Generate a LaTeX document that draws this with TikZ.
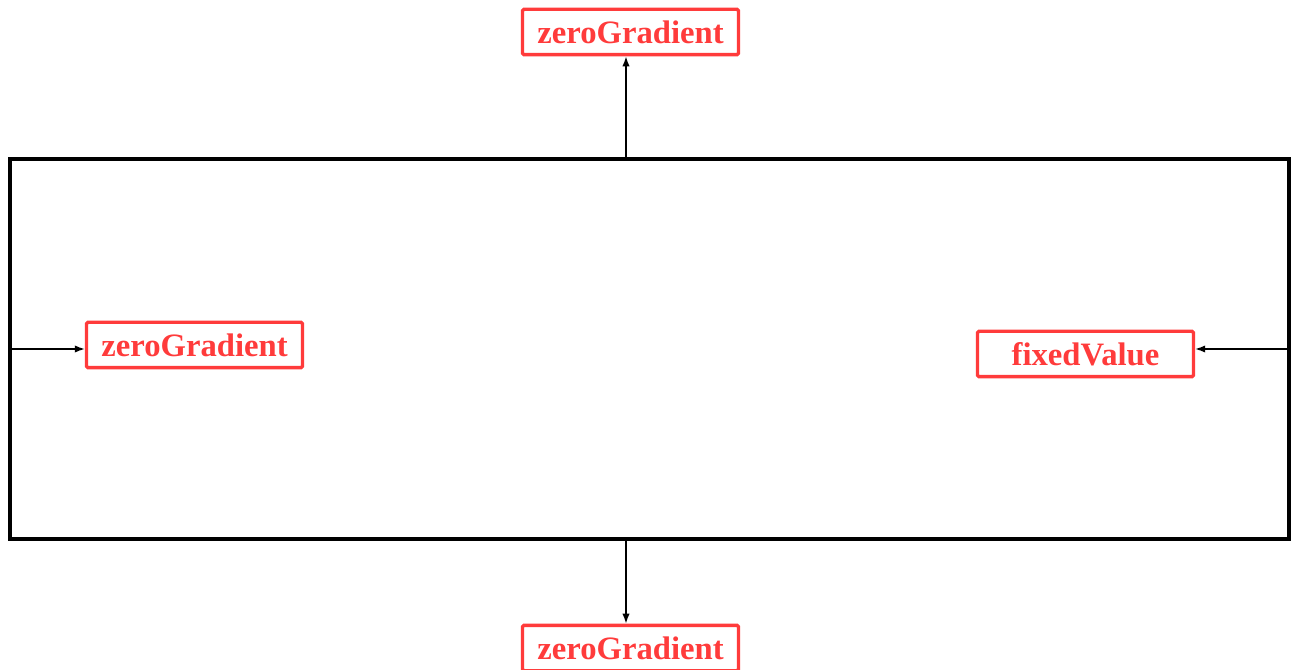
\documentclass[tikz,border=0pt]{standalone}
\usepackage{fontspec}
\setmainfont{Liberation Serif}
\usepackage{xcolor}
\usetikzlibrary{arrows, arrows.meta}
\usetikzlibrary{positioning}
\usetikzlibrary{calc}
\definecolor{bcred}{HTML}{FF3B3B}
\tikzset{
	bcbox/.style={draw=bcred, line width=2.5pt, rounded corners=1pt, text=bcred, font=\bfseries\fontsize{24.5}{27}\selectfont, minimum width=162pt, minimum height=34pt, inner sep=0pt},
	bcarrow/.style={line width=1.1pt, -{Latex[length=7.5pt, width=5.5pt]}}
}

\begin{document}
\begin{tikzpicture}[x=0.75pt, y=-0.75pt]
	\useasboundingbox (0,0) rectangle (1297,670);
	% domain
	\draw[line width=3pt] (10,159) rectangle (1289,539);
	\coordinate (top) at (626,159);
	\coordinate (bot) at (626,539);
	\coordinate (inlet) at (10,349);
	\coordinate (outlet) at (1289,349);
	% boundary conditions
	\node[bcbox] (zgTop) at (630.5,32) {zeroGradient};
	\node[bcbox] (zgBot) at (630.5,648) {zeroGradient};
	\node[bcbox] (zgIn) at (194.5,345) {zeroGradient};
	\node[bcbox] (fvOut) at (1085.5,354) {fixedValue};
	\draw[bcarrow] (top) -- (top |- zgTop.south);
	\draw[bcarrow] (bot) -- (bot |- zgBot.north);
	\draw[bcarrow] (inlet) -- (inlet -| zgIn.west);
	\draw[bcarrow] (outlet) -- (outlet -| fvOut.east);
\end{tikzpicture}
\end{document}
